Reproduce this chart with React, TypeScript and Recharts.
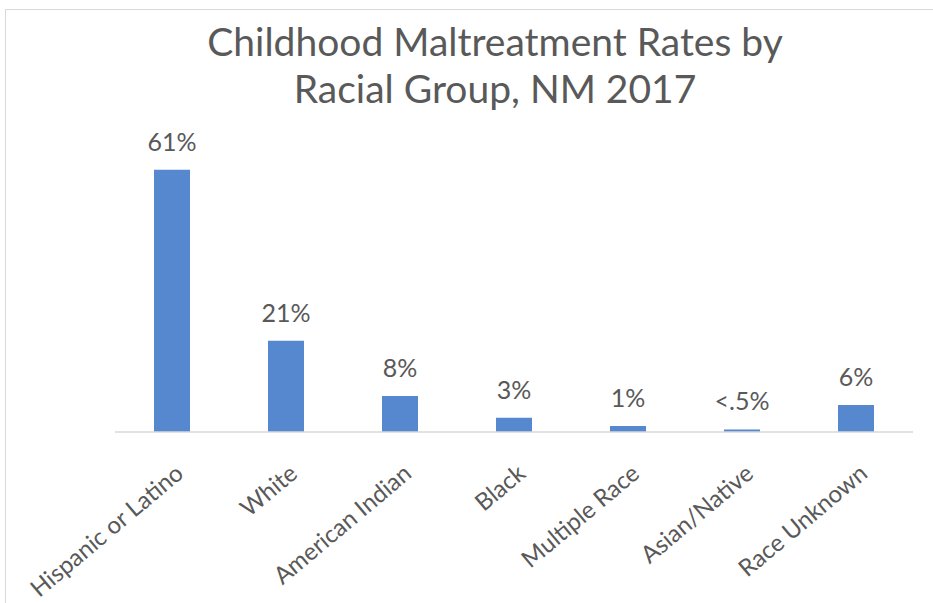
import { BarChart, Bar, XAxis, YAxis, LabelList } from "recharts";

const categories = [
  "Hispanic or Latino",
  "White",
  "American Indian",
  "Black",
  "Multiple Race",
  "Asian/Native",
  "Race Unknown",
];
const rates = [61, 21.2, 8.4, 3.3, 1.4, 0.6, 6.3];
const rateLabels = ["61%", "21%", "8%", "3%", "1%", "<.5%", "6%"];

const chartData = categories.map((name, i) => ({
  name,
  rate: rates[i],
  label: rateLabels[i],
}));

const FONT = "Lato, 'Open Sans', sans-serif";
const TEXT_COLOR = "#595959";

function RotatedTick(props: any) {
  const { x, y, payload } = props;
  return (
    <g transform={`translate(${x + 13},${y + 36})`}>
      <text
        x={0}
        y={0}
        textAnchor="end"
        transform="rotate(-40)"
        fill={TEXT_COLOR}
        fontSize={24}
        fontFamily={FONT}
      >
        {payload.value}
      </text>
    </g>
  );
}

export default function App() {
  return (
    <div
      style={{
        position: "absolute",
        left: 0,
        top: 0,
        width: 933,
        height: 603,
        overflow: "hidden",
        background: "#fff",
      }}
    >
      {/* chart frame, cropped on the right and bottom */}
      <div
        style={{
          position: "absolute",
          left: 5,
          top: 9,
          width: 960,
          height: 640,
          border: "1px solid #d9d9d9",
        }}
      />
      <div
        style={{
          position: "absolute",
          left: 0,
          top: 18,
          width: 990,
          textAlign: "center",
          fontFamily: FONT,
          fontSize: 39,
          lineHeight: "47px",
          color: TEXT_COLOR,
        }}
      >
        Childhood Maltreatment Rates by
        <br />
        Racial Group, NM 2017
      </div>
      <div style={{ position: "absolute", left: 0, top: 0 }}>
        <BarChart
          width={933}
          height={603}
          data={chartData}
          barSize={36}
          margin={{ top: 131, right: 20, left: 115, bottom: 0 }}
        >
          <XAxis
            dataKey="name"
            axisLine={{ stroke: "#d9d9d9", strokeWidth: 1.5 }}
            tickLine={false}
            interval={0}
            tick={<RotatedTick />}
            height={171}
          />
          <YAxis hide domain={[0, 70]} />
          <Bar dataKey="rate" fill="#5588ce" isAnimationActive={false}>
            <LabelList
              dataKey="label"
              position="top"
              offset={19}
              fill={TEXT_COLOR}
              fontSize={25}
              fontFamily={FONT}
            />
          </Bar>
        </BarChart>
      </div>
    </div>
  );
}
